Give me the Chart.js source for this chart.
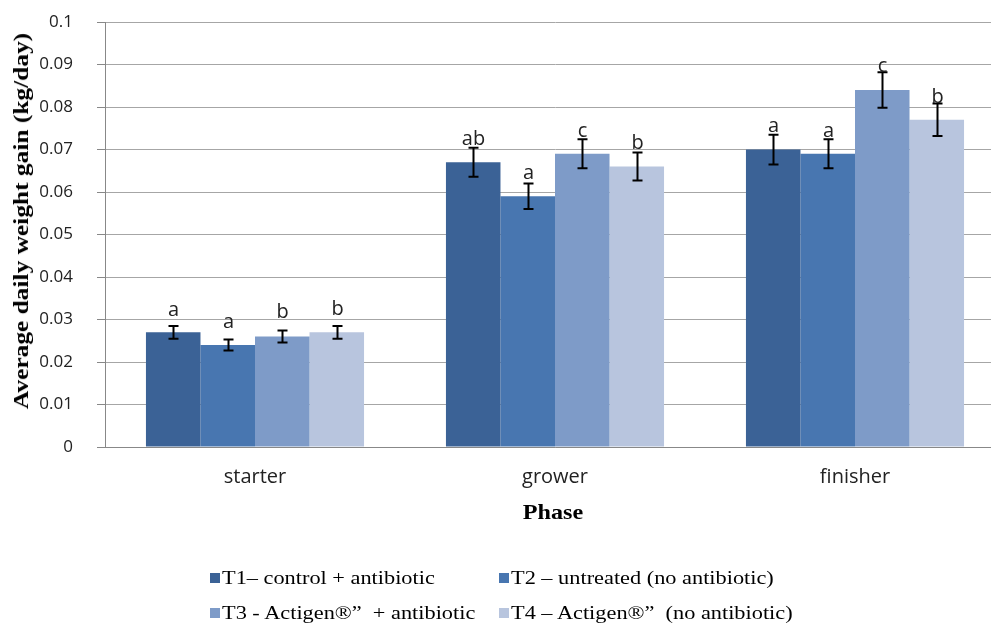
<!DOCTYPE html>
<html><head><meta charset="utf-8">
<script src="https://cdn.jsdelivr.net/npm/chart.js@4/dist/chart.umd.min.js"></script>
<style>
html,body{margin:0;padding:0;background:#fff;overflow:hidden;width:991px;height:625px;}
#wrap{position:relative;width:1010px;height:625px;}
#c{position:absolute;left:0;top:0;}
.lg{position:absolute;font-family:"Liberation Serif","Times New Roman",serif;font-size:18px;color:#000;white-space:pre;line-height:20px;transform-origin:0 50%;transform:scaleX(1.24);}
.sw{position:absolute;width:10px;height:10px;}
.ttl{position:absolute;font-family:"Liberation Serif","Times New Roman",serif;font-weight:bold;color:#000;white-space:pre;line-height:1;}
</style></head>
<body><div id="wrap"><canvas id="c" width="1010" height="625"></canvas>
<div id="ytitle" class="ttl" style="left:21px;top:221px;font-size:20px;transform:translate(-50%,-50%) rotate(-90deg) scaleX(1.27);"></div>
<div id="xtitle" class="ttl" style="left:553px;top:512px;font-size:21px;transform:translate(-50%,-50%) scaleX(1.15);"></div>
<div id="legend"></div></div>
<script>
const categories = ["starter", "grower", "finisher"];
const xTitle = "Phase";
const yTitle = "Average daily weight gain (kg/day)";
const seriesNames = ["T1\u2013 control + antibiotic", "T2 \u2013 untreated (no antibiotic)", "T3 - Actigen\u00AE\u201D  + antibiotic", "T4 \u2013 Actigen\u00AE\u201D  (no antibiotic)"];
const colors = ["#3B6296", "#4876B0", "#7E9BC8", "#B8C5DE"];
const T1 = [0.027, 0.067, 0.070];
const T2 = [0.024, 0.059, 0.069];
const T3 = [0.026, 0.069, 0.084];
const T4 = [0.027, 0.066, 0.077];
const err1 = [0.0015, 0.0034, 0.0035];
const err2 = [0.0013, 0.0030, 0.0034];
const err3 = [0.0014, 0.0034, 0.0042];
const err4 = [0.0015, 0.0033, 0.0038];
const letters1 = ["a", "ab", "a"];
const letters2 = ["a", "a", "a"];
const letters3 = ["b", "c", "c"];
const letters4 = ["b", "b", "b"];
const letterPos1 = [0.0308, 0.0711, 0.0742];
const letterPos2 = [0.0280, 0.0630, 0.0730];
const letterPos3 = [0.0304, 0.0730, 0.0883];
const letterPos4 = [0.0310, 0.0701, 0.0810];
const yTicks = [0, 0.01, 0.02, 0.03, 0.04, 0.05, 0.06, 0.07, 0.08, 0.09, 0.1];

const values = [T1, T2, T3, T4];
const errs = [err1, err2, err3, err4];
const letters = [letters1, letters2, letters3, letters4];
const letterPos = [letterPos1, letterPos2, letterPos3, letterPos4];

document.getElementById('ytitle').textContent = yTitle;
document.getElementById('xtitle').textContent = xTitle;

const errorPlugin = {
  id: 'errbars',
  afterDatasetsDraw(chart) {
    const ctx = chart.ctx, y = chart.scales.y;
    ctx.save();
    chart.data.datasets.forEach((ds, di) => {
      const meta = chart.getDatasetMeta(di);
      meta.data.forEach((bar, i) => {
        const v = values[di][i], e = errs[di][i];
        const yt = y.getPixelForValue(v + e), yb = y.getPixelForValue(v - e);
        const x = Math.round(bar.x) + 0.5;
        ctx.strokeStyle = '#000'; ctx.lineWidth = 2;
        ctx.beginPath();
        ctx.moveTo(x, yt); ctx.lineTo(x, yb);
        ctx.moveTo(x - 5, yt); ctx.lineTo(x + 5, yt);
        ctx.moveTo(x - 5, yb); ctx.lineTo(x + 5, yb);
        ctx.stroke();
        ctx.fillStyle = '#222';
        ctx.font = '20px "Open Sans", "Liberation Sans", sans-serif';
        ctx.textAlign = 'center'; ctx.textBaseline = 'alphabetic';
        ctx.fillText(letters[di][i], x, y.getPixelForValue(letterPos[di][i]));
      });
    });
    ctx.restore();
  }
};

new Chart(document.getElementById('c'), {
  type: 'bar',
  data: {
    labels: categories,
    datasets: values.map((v, i) => ({
      label: seriesNames[i], data: v, backgroundColor: colors[i],
      borderWidth: 0, barPercentage: 1, categoryPercentage: 0.727
    }))
  },
  options: {
    responsive: false, animation: false, devicePixelRatio: 1,
    layout: { padding: { left: 0, right: 5, top: 22, bottom: 0 } },
    plugins: { legend: { display: false }, tooltip: { enabled: false } },
    scales: {
      x: {
        grid: { display: false, drawTicks: false },
        border: { color: '#888', width: 1 },
        ticks: { color: '#222', font: { family: '"Open Sans", sans-serif', size: 20 }, padding: 18 },
        afterFit(s) { s.height = 178; s.paddingLeft = 0; s.paddingRight = 0; }
      },
      y: {
        min: 0, max: 0.1,
        afterBuildTicks(s) { s.ticks = yTicks.map(v => ({ value: v })); },
        grid: { color: '#a6a6a6', lineWidth: 1, tickLength: 8, tickColor: '#888' },
        border: { color: '#888', width: 1 },
        ticks: { color: '#222', font: { family: '"Open Sans", sans-serif', size: 17 }, padding: 24,
          callback: v => String(Math.round(v * 100) / 100) },
        afterFit(s) { s.width = 105; s.paddingTop = 0; s.paddingBottom = 0; }
      }
    }
  },
  plugins: [errorPlugin]
});

const lg = document.getElementById('legend');
const pos = [[210, 568], [499, 568], [210, 603], [499, 603]];
seriesNames.forEach((n, i) => {
  const sq = document.createElement('div');
  sq.className = 'sw'; sq.style.background = colors[i];
  sq.style.left = pos[i][0] + 'px'; sq.style.top = (pos[i][1] + 5) + 'px';
  lg.appendChild(sq);
  const d = document.createElement('div');
  d.className = 'lg';
  d.style.left = (pos[i][0] + 12) + 'px'; d.style.top = pos[i][1] + 'px';
  d.textContent = n;
  lg.appendChild(d);
});
</script></body></html>
